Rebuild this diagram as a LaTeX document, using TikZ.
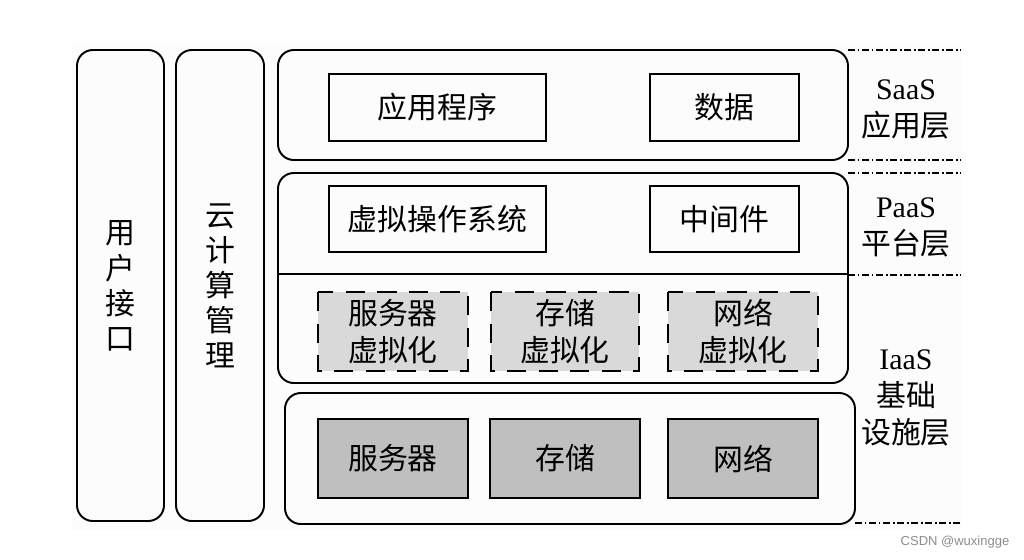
\documentclass[tikz,border=0pt]{standalone}
\usepackage{fontspec}
\setmainfont{Liberation Serif}
\newfontfamily\cjk{Noto Sans CJK SC}
\newfontfamily\wmfont{Liberation Sans}

\tikzset{
  panel/.style={draw, line width=1.1pt, rounded corners=9pt},
  itembox/.style={draw, line width=1.1pt},
  virtbox/.style={draw, line width=1.1pt, fill=black!15, dash pattern=on 11pt off 7pt},
  hwbox/.style={draw, line width=1.1pt, fill=black!25},
  layerline/.style={line width=0.8pt, dash pattern=on 4pt off 1.5pt on 1pt off 1.5pt},
  txt/.style={font=\fontsize{17}{21}\selectfont\cjk, align=center, inner sep=0pt},
  coltxt/.style={txt, font=\fontsize{17}{20}\selectfont\cjk},
}

\begin{document}
\begin{tikzpicture}[x=0.02cm, y=-0.02cm]
        \useasboundingbox (0,0) rectangle (1024,559);
        \fill[black!1] (72,45) rectangle (961,530);

        % side columns
        \draw[panel] (77,50) rectangle (164,521);
        \node[coltxt](ui) at (120,286) {用\\户\\接\\口};
        \draw[panel] (176,50) rectangle (264,521);
        \node[coltxt](mgmt) at (220,286) {云\\计\\算\\管\\理};

        % SaaS
        \draw[panel] (278,50) rectangle (848,160);
        \draw[itembox] (329,74) rectangle (546,141);
        \node[txt](app) at (437.5,107.5) {应用程序};
        \draw[itembox] (650,74) rectangle (799,141);
        \node[txt](data) at (724.5,107.5) {数据};

        % PaaS + virtualisation
        \draw[panel] (278,173) rectangle (848,383);
        \draw[line width=1.1pt] (278,274) -- (848,274);
        \draw[itembox] (329,186) rectangle (546,252);
        \node[txt](vos) at (437.5,219) {虚拟操作系统};
        \draw[itembox] (650,186) rectangle (799,252);
        \node[txt](mid) at (724.5,219) {中间件};

        \draw[virtbox] (318,292) rectangle (468,371);
        \node[txt](vsrv) at (393,331.5) {服务器\\虚拟化};
        \draw[virtbox] (491,292) rectangle (639,371);
        \node[txt](vsto) at (565,331.5) {存储\\虚拟化};
        \draw[virtbox] (668,292) rectangle (818,371);
        \node[txt](vnet) at (743,331.5) {网络\\虚拟化};

        % hardware
        \draw[panel] (285,393) rectangle (855,524);
        \draw[hwbox] (318,419) rectangle (468,498);
        \node[txt](srv) at (393,458.5) {服务器};
        \draw[hwbox] (490,419) rectangle (640,498);
        \node[txt](sto) at (565,458.5) {存储};
        \draw[hwbox] (668,419) rectangle (818,498);
        \node[txt](net) at (743,458.5) {网络};

        % layer marks
        \draw[layerline] (848,50) -- (961,50);
        \draw[layerline] (848,160) -- (961,160);
        \draw[layerline] (848,173) -- (961,173);
        \draw[layerline] (848,275) -- (961,275);
        \draw[layerline] (855,523) -- (961,523);

        \node[txt](saas) at (906,109) {{\rmfamily SaaS}\\应用层};
        \node[txt](paas) at (906,227) {{\rmfamily PaaS}\\平台层};
        \node[txt](iaas) at (906,398) {{\rmfamily IaaS}\\基础\\设施层};

        \node[text=black!45, font=\wmfont\fontsize{7.4}{9}\selectfont](wm) at (955,542) {CSDN @wuxingge};
\end{tikzpicture}
\end{document}
